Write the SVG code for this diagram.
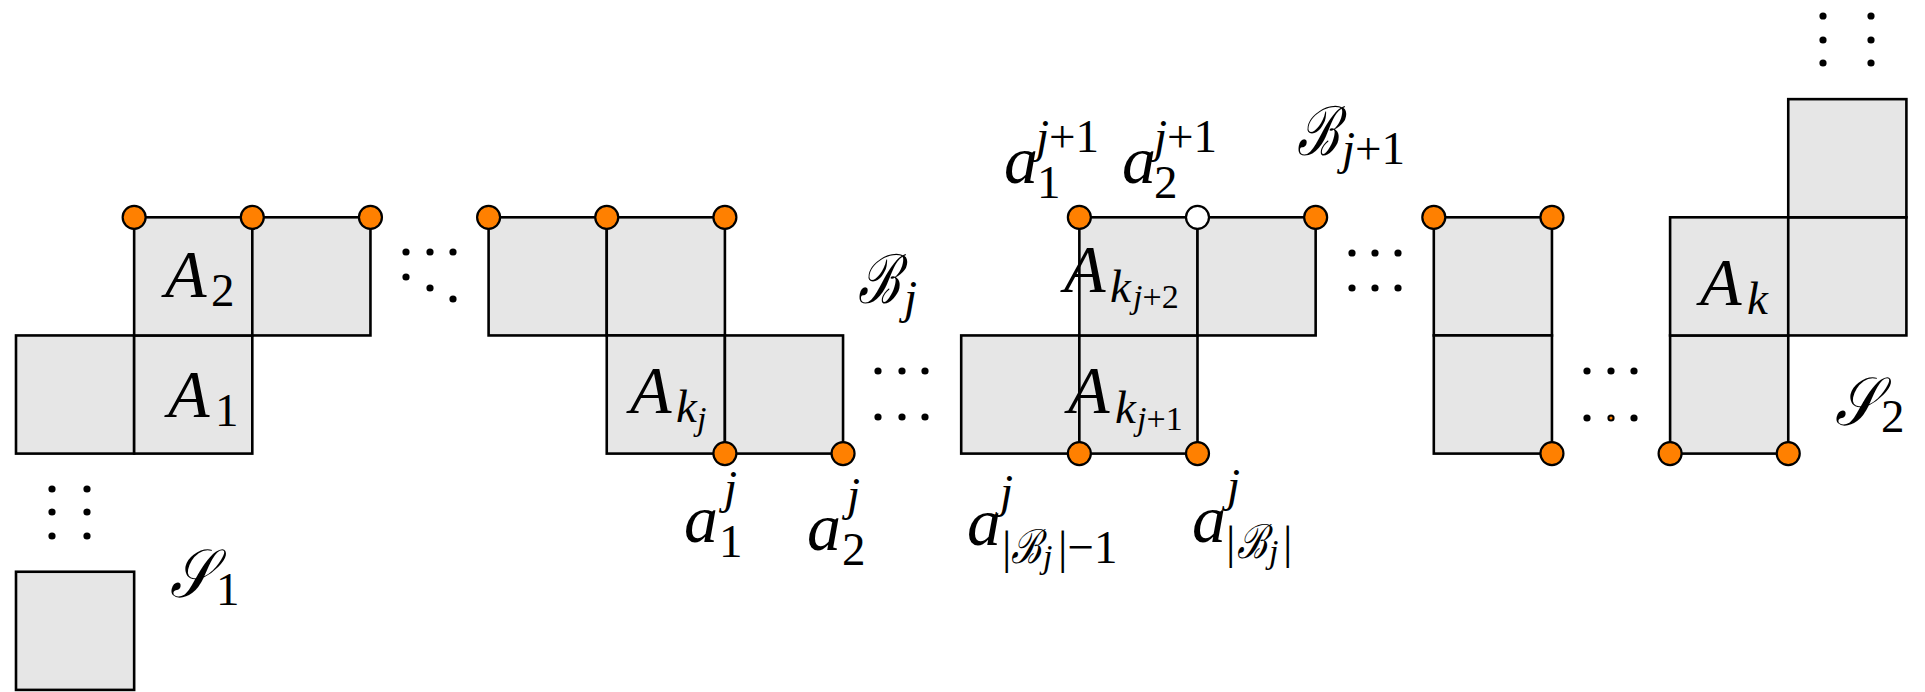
<svg xmlns="http://www.w3.org/2000/svg" width="1925" height="692" viewBox="0 0 1925 692">
<style>
.cell{fill:#E6E6E6;stroke:#000;stroke-width:2.6}
.pt{fill:#FF8000;stroke:#000;stroke-width:2.2}
.wpt{fill:#FFFFFF;stroke:#000;stroke-width:2.2}
.dot{fill:#000}
.b{font-size:68px}
.s{font-size:47px}
.ss{font-size:34px}
.i{font-style:italic}
</style>
<rect width="1925" height="692" fill="#fff"/>
<g font-family="'Liberation Serif', 'DejaVu Serif', serif" fill="#000">
<g id="block-S1">
<rect class="cell" x="16" y="335.45" width="118.15" height="118.15"/>
<rect class="cell" x="134.15" y="335.45" width="118.15" height="118.15"/>
<rect class="cell" x="134.15" y="217.3" width="118.15" height="118.15"/>
<rect class="cell" x="252.3" y="217.3" width="118.15" height="118.15"/>
<rect class="cell" x="16" y="571.75" width="118.15" height="118.15"/>
<circle class="pt" cx="134.15" cy="217.3" r="11.5"/>
<circle class="pt" cx="252.3" cy="217.3" r="11.5"/>
<circle class="pt" cx="370.45" cy="217.3" r="11.5"/>
<text class="b"><tspan class="i" x="165" y="297">A</tspan><tspan class="s" x="211" y="306">2</tspan></text>
<text class="b"><tspan class="i" x="168" y="417">A</tspan><tspan class="s" x="215" y="426">1</tspan></text>
<text class="b i" x="170" y="597" textLength="43" lengthAdjust="spacingAndGlyphs">𝒮</text>
<text class="s" x="216" y="605">1</text>
</g>
<g id="block-Bj">
<rect class="cell" x="488.6" y="217.3" width="118.15" height="118.15"/>
<rect class="cell" x="606.75" y="217.3" width="118.15" height="118.15"/>
<rect class="cell" x="606.75" y="335.45" width="118.15" height="118.15"/>
<rect class="cell" x="724.9" y="335.45" width="118.15" height="118.15"/>
<circle class="pt" cx="488.6" cy="217.3" r="11.5"/>
<circle class="pt" cx="606.75" cy="217.3" r="11.5"/>
<circle class="pt" cx="724.9" cy="217.3" r="11.5"/>
<circle class="pt" cx="724.9" cy="453.6" r="11.5"/>
<circle class="pt" cx="843.05" cy="453.6" r="11.5"/>
<text class="b"><tspan class="i" x="630" y="413">A</tspan><tspan class="s i" x="676" y="422">k</tspan><tspan class="ss i" x="697" y="430">j</tspan></text>
<text class="b i" x="858" y="303" textLength="42" lengthAdjust="spacingAndGlyphs">ℬ</text>
<text class="s i" x="904" y="313">j</text>
<text class="b"><tspan class="i" x="684" y="542">a</tspan><tspan class="s" x="719" y="557">1</tspan><tspan class="s i" x="724" y="503">j</tspan></text>
<text class="b"><tspan class="i" x="807" y="550">a</tspan><tspan class="s" x="842" y="565">2</tspan><tspan class="s i" x="847" y="510">j</tspan></text>
</g>
<g id="block-Bj1">
<rect class="cell" x="961.2" y="335.45" width="118.15" height="118.15"/>
<rect class="cell" x="1079.35" y="335.45" width="118.15" height="118.15"/>
<rect class="cell" x="1079.35" y="217.3" width="118.15" height="118.15"/>
<rect class="cell" x="1197.5" y="217.3" width="118.15" height="118.15"/>
<circle class="pt" cx="1079.35" cy="217.3" r="11.5"/>
<circle class="wpt" cx="1197.5" cy="217.3" r="11.5"/>
<circle class="pt" cx="1315.65" cy="217.3" r="11.5"/>
<circle class="pt" cx="1079.35" cy="453.6" r="11.5"/>
<circle class="pt" cx="1197.5" cy="453.6" r="11.5"/>
<text class="b"><tspan class="i" x="1064" y="292">A</tspan><tspan class="s i" x="1110" y="302">k</tspan><tspan class="ss" x="1133" y="308"><tspan class="i">j</tspan>+2</tspan></text>
<text class="b"><tspan class="i" x="1068" y="413">A</tspan><tspan class="s i" x="1115" y="423">k</tspan><tspan class="ss" x="1137" y="430"><tspan class="i">j</tspan>+1</tspan></text>
<text class="b"><tspan class="i" x="1004" y="183">a</tspan><tspan class="s" x="1037" y="198">1</tspan><tspan class="s" x="1036" y="152"><tspan class="i">j</tspan>+1</tspan></text>
<text class="b"><tspan class="i" x="1122" y="183">a</tspan><tspan class="s" x="1154" y="198">2</tspan><tspan class="s" x="1154" y="152"><tspan class="i">j</tspan>+1</tspan></text>
<text class="b i" x="1297" y="155" textLength="42" lengthAdjust="spacingAndGlyphs">ℬ</text>
<text class="s" x="1342" y="164"><tspan class="i">j</tspan>+1</text>
<text class="b"><tspan class="i" x="967" y="545">a</tspan><tspan class="s i" x="1000" y="507">j</tspan><tspan class="s" x="1002" y="563">|</tspan></text>
<text class="s i" x="1011" y="563" textLength="30" lengthAdjust="spacingAndGlyphs">ℬ</text>
<text class="ss i" x="1043" y="568">j</text>
<text class="s" x="1058" y="563">|−1</text>
<text class="b"><tspan class="i" x="1192" y="542">a</tspan><tspan class="s i" x="1227" y="501">j</tspan><tspan class="s" x="1226" y="558">|</tspan></text>
<text class="s i" x="1237" y="558" textLength="30" lengthAdjust="spacingAndGlyphs">ℬ</text>
<text class="ss i" x="1269" y="563">j</text>
<text class="s" x="1283" y="558">|</text>
</g>
<g id="block-mid">
<rect class="cell" x="1433.8" y="217.3" width="118.15" height="118.15"/>
<rect class="cell" x="1433.8" y="335.45" width="118.15" height="118.15"/>
<circle class="pt" cx="1433.8" cy="217.3" r="11.5"/>
<circle class="pt" cx="1551.95" cy="217.3" r="11.5"/>
<circle class="pt" cx="1551.95" cy="453.6" r="11.5"/>
</g>
<g id="block-S2">
<rect class="cell" x="1670.1" y="335.45" width="118.15" height="118.15"/>
<rect class="cell" x="1670.1" y="217.3" width="118.15" height="118.15"/>
<rect class="cell" x="1788.25" y="217.3" width="118.15" height="118.15"/>
<rect class="cell" x="1788.25" y="99.15" width="118.15" height="118.15"/>
<circle class="pt" cx="1670.1" cy="453.6" r="11.5"/>
<circle class="pt" cx="1788.25" cy="453.6" r="11.5"/>
<text class="b"><tspan class="i" x="1700" y="305">A</tspan><tspan class="s i" x="1747" y="314">k</tspan></text>
<text class="b i" x="1835" y="425" textLength="43" lengthAdjust="spacingAndGlyphs">𝒮</text>
<text class="s" x="1881" y="432">2</text>
</g>
</g>
<g id="dots">
<circle class="dot" cx="406" cy="252" r="3.6"/><circle class="dot" cx="430" cy="252" r="3.6"/><circle class="dot" cx="453" cy="252" r="3.6"/>
<circle class="dot" cx="406" cy="277" r="3.6"/><circle class="dot" cx="430" cy="288" r="3.6"/><circle class="dot" cx="453" cy="299" r="3.6"/>
<circle class="dot" cx="878" cy="371" r="3.6"/><circle class="dot" cx="902" cy="371" r="3.6"/><circle class="dot" cx="925" cy="371" r="3.6"/>
<circle class="dot" cx="878" cy="417" r="3.6"/><circle class="dot" cx="902" cy="417" r="3.6"/><circle class="dot" cx="925" cy="417" r="3.6"/>
<circle class="dot" cx="1352" cy="253" r="3.6"/><circle class="dot" cx="1375" cy="253" r="3.6"/><circle class="dot" cx="1398" cy="253" r="3.6"/>
<circle class="dot" cx="1352" cy="288" r="3.6"/><circle class="dot" cx="1375" cy="288" r="3.6"/><circle class="dot" cx="1398" cy="288" r="3.6"/>
<circle class="dot" cx="1587" cy="371" r="3.6"/><circle class="dot" cx="1611" cy="371" r="3.6"/><circle class="dot" cx="1634" cy="371" r="3.6"/>
<circle class="dot" cx="1587" cy="418" r="3.6"/><circle class="dot" cx="1611" cy="418" r="3.6"/><circle class="dot" cx="1634" cy="418" r="3.6"/>
<circle cx="1611" cy="418" r="1.5" fill="#FF8000"/>
<circle class="dot" cx="52" cy="489" r="3.6"/><circle class="dot" cx="52" cy="512" r="3.6"/><circle class="dot" cx="52" cy="536" r="3.6"/>
<circle class="dot" cx="87" cy="489" r="3.6"/><circle class="dot" cx="87" cy="512" r="3.6"/><circle class="dot" cx="87" cy="536" r="3.6"/>
<circle class="dot" cx="1823" cy="16" r="3.6"/><circle class="dot" cx="1823" cy="40" r="3.6"/><circle class="dot" cx="1823" cy="63" r="3.6"/>
<circle class="dot" cx="1871" cy="16" r="3.6"/><circle class="dot" cx="1871" cy="40" r="3.6"/><circle class="dot" cx="1871" cy="63" r="3.6"/>
</g>
</svg>
